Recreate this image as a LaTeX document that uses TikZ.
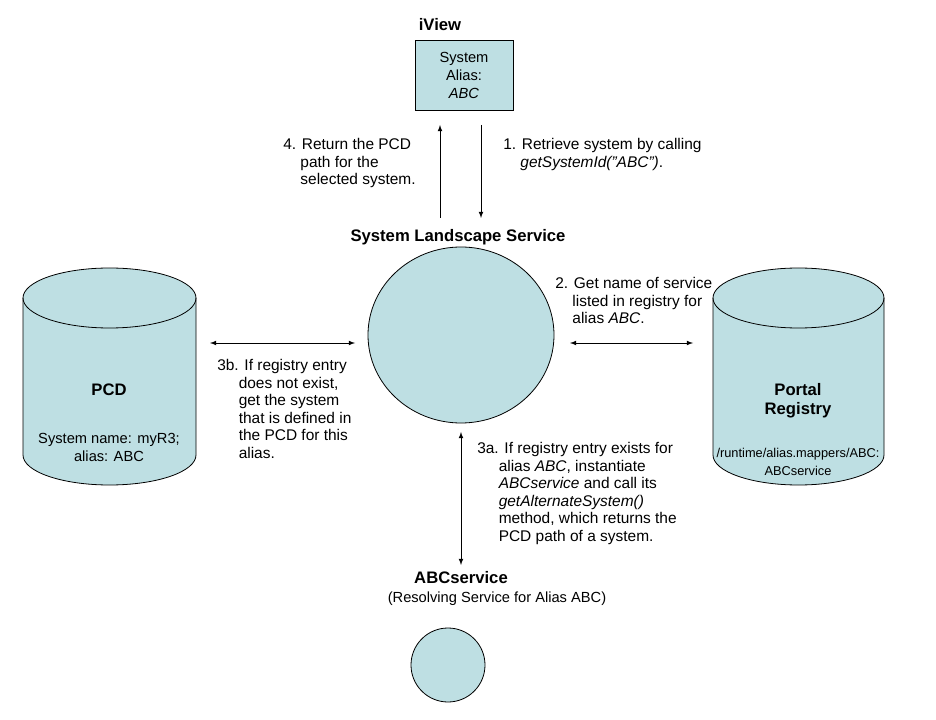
\documentclass[tikz,border=0pt]{standalone}
\usepackage{fontspec}
\setmainfont{Liberation Sans}
\usetikzlibrary{shapes.geometric}
\definecolor{paleteal}{HTML}{BEDFE3}
\tikzset{
  box/.style={draw, fill=paleteal, line width=0.6pt},
  lbl/.style={font=\bfseries\fontsize{12.5}{14}\selectfont},
  note/.style={align=left, anchor=north west, font=\fontsize{11.6}{13.2}\selectfont, inner sep=0pt},
  body/.style={align=center, font=\fontsize{11}{13.5}\selectfont, inner sep=0pt},
  conn/.style={-latex, line width=0.6pt},
  both/.style={latex-latex, line width=0.6pt},
}
\newcommand{\cylinder}[4]{% left x, right x, top y, bottom y
  \fill[paleteal] (#1,#3+30) -- (#1,#4-30)
    arc[start angle=180, end angle=360, x radius={(#2-#1)/2}, y radius=-30] -- (#2,#3+30) -- cycle;
  \filldraw[fill=paleteal, line width=0.6pt] ({(#1+#2)/2},#3+30) ellipse[x radius={(#2-#1)/2}, y radius=30];
  \draw[line width=0.6pt] (#1,#3+30) -- (#1,#4-30) arc[start angle=180, end angle=360, x radius={(#2-#1)/2}, y radius=-30] -- (#2,#3+30);
}
\begin{document}
\begin{tikzpicture}[x=0.75pt, y=-0.75pt]
  \useasboundingbox (0,0) rectangle (936,720);
  % top system
  \node[lbl] (iview) at (440,25) {iView};
  \node[box, minimum width=98*0.75pt, minimum height=70*0.75pt] (alias) at (464,75) {};
  \node[body] at (alias) {System\\Alias:\\\textit{ABC}};
  \node[lbl] (sls) at (458,237) {System Landscape Service};
  \coordinate (upA) at (440,218); \coordinate (upB) at (440,125);
  \coordinate (dnA) at (481,125); \coordinate (dnB) at (481,218);
  \draw[conn] (upA) -- (upB);
  \draw[conn] (dnA) -- (dnB);
  \node[note] at (283,138) {4. Return the PCD\\\ \ \ \ path for the\\\ \ \ \ selected system.};
  \node[note] at (503,138) {1. Retrieve system by calling\\\ \ \ \ \textit{getSystemId("ABC")}.};
  % landscape service
  \node[box, ellipse, minimum width=186*0.75pt, minimum height=176*0.75pt] (slsc) at (461,335) {};
  % stores
  \cylinder{23}{196}{268}{485}
  \cylinder{713}{884}{268}{485}
  \node[lbl] (pcd) at (109,390) {PCD};
  \node[body] at (109,447) {System name: myR3;\\alias: ABC};
  \node[lbl, align=center] (reg) at (798,401) {Portal\\Registry};
  \node[body, font=\fontsize{9.6}{13.5}\selectfont] at (798,462) {/runtime/alias.mappers/ABC:\\ABCservice};
  \coordinate (pcdR) at (210,343); \coordinate (slsL) at (355,343);
  \coordinate (slsR) at (570,343); \coordinate (regL) at (693,343);
  \draw[both] (pcdR) -- (slsL);
  \draw[both] (slsR) -- (regL);
  \node[note] at (555,277) {2. Get name of service\\\ \ \ \ listed in registry for\\\ \ \ \ alias \textit{ABC}.};
  \node[note] at (217,359) {3b. If registry entry\\\ \ \ \ \ does not exist,\\\ \ \ \ \ get the system\\\ \ \ \ \ that is defined in\\\ \ \ \ \ the PCD for this\\\ \ \ \ \ alias.};
  % resolving service
  \coordinate (vA) at (461,432); \coordinate (vB) at (461,565);
  \draw[both] (vA) -- (vB);
  \node[note] at (477,442) {3a. If registry entry exists for\\\ \ \ \ \ alias \textit{ABC}, instantiate\\\ \ \ \ \ \textit{ABCservice} and call its\\\ \ \ \ \ \textit{getAlternateSystem()}\\\ \ \ \ \ method, which returns the\\\ \ \ \ \ PCD path of a system.};
  \node[lbl] (abc) at (461,578) {ABCservice};
  \node[body] at (497,599) {(Resolving Service for Alias ABC)};
  \node[box, circle, minimum size=74*0.75pt] (abcc) at (448,665) {};
\end{tikzpicture}
\end{document}
